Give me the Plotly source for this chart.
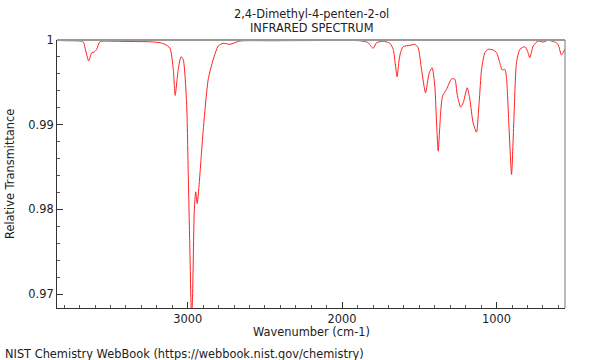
import plotly.graph_objects as go

# Wavenumber (cm-1) and relative transmittance
wavenumber = [3846, 3762, 3697, 3676, 3658, 3641, 3621, 3605, 3589, 3568,
              3503, 3373, 3244, 3179, 3147, 3115, 3093, 3081, 3061, 3043,
              3029, 3007, 2996, 2987, 2975, 2969, 2957, 2948, 2938, 2927,
              2914, 2899, 2867, 2834, 2802, 2770, 2726, 2662, 2467, 2273,
              2079, 1885, 1833, 1799, 1777, 1734, 1691, 1669, 1655, 1644,
              1633, 1622, 1605, 1561, 1529, 1508, 1486, 1460, 1436, 1417,
              1400, 1388, 1378, 1367, 1361, 1350, 1324, 1291, 1270, 1255,
              1233, 1216, 1190, 1173, 1152, 1130, 1113, 1097, 1076, 1055,
              1022, 1000, 979, 964, 946, 935, 919, 903, 888, 871,
              849, 817, 800, 785, 763, 731, 699, 666, 623, 602,
              580, 558]
transmittance = [0.99994, 0.99991, 0.99988, 0.99976, 0.99858, 0.99752, 0.99850, 0.99858, 0.99890, 0.99980,
                 0.99986, 0.99982, 0.99979, 0.99968, 0.99949, 0.99905, 0.99654, 0.99346, 0.99654, 0.99803,
                 0.99772, 0.99259, 0.98392, 0.97635, 0.96720, 0.96926, 0.97990, 0.98207, 0.98069, 0.98265,
                 0.98581, 0.98944, 0.99535, 0.99772, 0.99929, 0.99961, 0.99949, 0.99988, 0.99991, 0.99993,
                 0.99994, 0.99991, 0.99970, 0.99902, 0.99968, 0.99985, 0.99961, 0.99890, 0.99704, 0.99566,
                 0.99740, 0.99850, 0.99921, 0.99937, 0.99949, 0.99909, 0.99654, 0.99377, 0.99613, 0.99672,
                 0.99456, 0.98995, 0.98687, 0.98995, 0.99172, 0.99338, 0.99417, 0.99542, 0.99535, 0.99358,
                 0.99208, 0.99259, 0.99436, 0.99299, 0.99022, 0.98912, 0.99259, 0.99654, 0.99850, 0.99890,
                 0.99882, 0.99850, 0.99732, 0.99645, 0.99654, 0.99535, 0.98944, 0.98412, 0.99062, 0.99732,
                 0.99890, 0.99921, 0.99870, 0.99791, 0.99929, 0.99988, 0.99976, 0.99996, 0.99976, 0.99949,
                 0.99823, 0.99890]

x_range = [3846, 557]
y_range = [0.96835, 1.0]

title_lines = ["2,4-Dimethyl-4-penten-2-ol", "INFRARED SPECTRUM"]
x_title = "Wavenumber (cm-1)"
y_title = "Relative Transmittance"
footer = "NIST Chemistry WebBook (https://webbook.nist.gov/chemistry)"

FONT = "DejaVu Sans"
FS = 11.4
TXT = "#222"
W, H = 600, 360

fig = go.Figure()
fig.add_trace(go.Scatter(x=wavenumber, y=transmittance, mode="lines",
                         line=dict(color="#ff2020", width=1, shape="spline", smoothing=0.6),
                         hoverinfo="skip", showlegend=False))

fig.update_layout(
    width=W, height=H,
    margin=dict(l=57, r=35, t=40, b=52),
    paper_bgcolor="white", plot_bgcolor="white",
    font=dict(family=FONT, size=FS, color=TXT),
    xaxis=dict(range=x_range, showgrid=False, zeroline=False,
               showline=True, linecolor="#333", linewidth=1,
               tickmode="linear", tick0=0, dtick=1000, ticks="inside", ticklen=6,
               tickcolor="#333", tickfont=dict(size=FS),
               minor=dict(dtick=100, tick0=0, ticks="inside", ticklen=3, tickcolor="#555")),
    yaxis=dict(range=y_range, showgrid=False, zeroline=False,
               showline=True, linecolor="#333", linewidth=1,
               tickmode="linear", tick0=0.97, dtick=0.01, ticks="inside", ticklen=6,
               tickcolor="#333", tickfont=dict(size=FS),
               minor=dict(dtick=0.002, tick0=0.97, ticks="inside", ticklen=3, tickcolor="#555")),
    shapes=[
        dict(type="line", xref="paper", yref="paper", x0=0, x1=1, y0=1, y1=1,
             line=dict(color="#999", width=2)),
        dict(type="line", xref="paper", yref="paper", x0=1, x1=1, y0=0, y1=1,
             line=dict(color="#777", width=1)),
    ],
    annotations=[
        dict(text=title_lines[0], xref="paper", yref="paper", x=0.5, y=1, yshift=26.5,
             showarrow=False, xanchor="center", yanchor="middle",
             font=dict(family=FONT, size=FS, color=TXT)),
        dict(text=title_lines[1], xref="paper", yref="paper", x=0.5, y=1, yshift=12.5,
             showarrow=False, xanchor="center", yanchor="middle",
             font=dict(family=FONT, size=FS, color=TXT)),
        dict(text=y_title, xref="paper", yref="paper", x=0, y=0.5, xshift=-47,
             textangle=-90, showarrow=False, xanchor="center", yanchor="middle",
             font=dict(family=FONT, size=FS, color=TXT)),
        dict(text=x_title, xref="paper", yref="paper", x=0.5, y=0, yshift=-24,
             showarrow=False, xanchor="center", yanchor="middle",
             font=dict(family=FONT, size=FS, color=TXT)),
        dict(text=footer, xref="paper", yref="paper", x=0, y=0, xshift=-54, yshift=-45.5,
             showarrow=False, xanchor="left", yanchor="middle",
             font=dict(family=FONT, size=FS, color=TXT)),
    ],
)

fig.write_html("out.html", config={"displayModeBar": False},
               post_script="document.body.style.margin='0';document.body.style.padding='0';")
